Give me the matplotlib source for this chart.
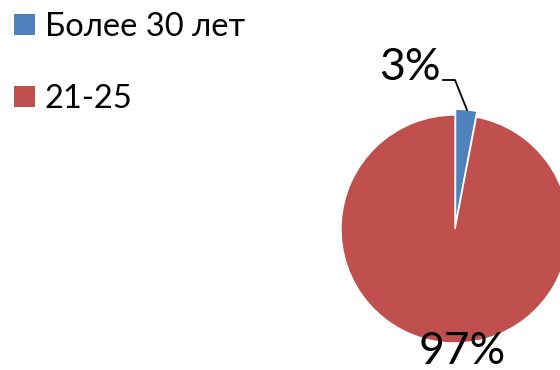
import matplotlib
matplotlib.use("Agg")
import matplotlib.pyplot as plt
from matplotlib.patches import Rectangle

labels = ["Более 30 лет", "21-25"]
values = [3, 97]
colors = ["#4F81BD", "#C0504D"]

W, H = 560, 370
fig = plt.figure(figsize=(W / 100, H / 100), dpi=100)
plt.rcParams['font.family'] = ['Lato', 'DejaVu Sans']

# pie axes: radius 1 -> 114 px, centre at (455, 229) px from top-left
R = 114.0
cx, cy = 455.0, 229.0
ax = fig.add_axes([0, 0, 1, 1])

wedges, _ = ax.pie(values, colors=colors, startangle=90, counterclock=False,
                   explode=[0.05, 0], radius=1.0,
                   wedgeprops=dict(edgecolor="white", linewidth=1.0))
ax.set_aspect("auto")
ax.set_xlim(-cx / R, (W - cx) / R)
ax.set_ylim(-(H - cy) / R, cy / R)
ax.axis("off")

def px(x, y):
    return (x - cx) / R, (cy - y) / R

# label 3%
ax.text(*px(410, 67), f"{values[0]}%", fontsize=32, ha="center", va="center", color="black")
xs, ys = zip(px(443, 80), px(455, 80), px(467, 110))
ax.plot(xs, ys, color="black", lw=1.3)
# label 97%
ax.text(*px(462, 351), f"{values[1]}%", fontsize=32, ha="center", va="center", color="black")

# legend (figure pixel layout)
def fx(x):
    return x / W

def fy(y):
    return 1 - y / H

for i, (lab, col) in enumerate(zip(labels, colors)):
    top = 14 + 72 * i
    fig.patches.append(Rectangle((fx(14), fy(top + 21)), 21 / W, 21 / H,
                                 transform=fig.transFigure, facecolor=col,
                                 edgecolor="none"))
    fig.text(fx(45), fy(top + 22), lab, fontsize=23.5, ha="left", va="baseline",
             color="black")

fig.savefig("out.png", dpi=100)
